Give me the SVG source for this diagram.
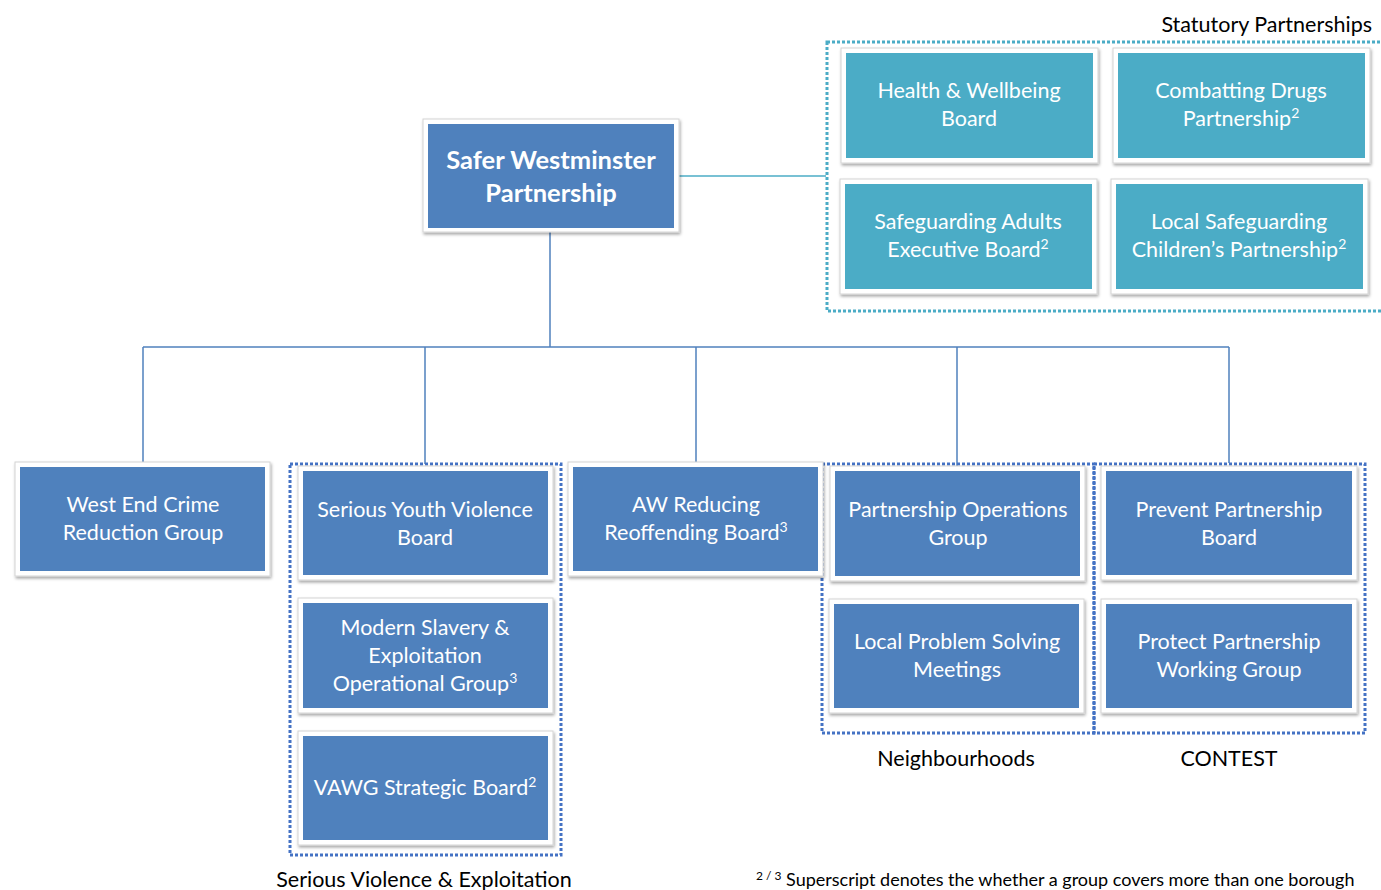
<svg xmlns="http://www.w3.org/2000/svg" width="1381" height="890" viewBox="0 0 1381 890">
<defs>
<filter id="sh" x="-5%" y="-5%" width="115%" height="120%">
<feDropShadow dx="1" dy="2" stdDeviation="1.5" flood-color="#000" flood-opacity="0.35"/>
</filter>
<style>
.frame{fill:#fff;stroke:#d4d4d4;stroke-width:1;filter:url(#sh)}
.blue{fill:#4F81BD}
.teal{fill:#4BACC6}
.t{font-family:Lato,"Open Sans","Liberation Sans",sans-serif;font-size:21.5px;fill:#fff;text-anchor:middle}
.tb{font-family:Lato,"Open Sans","Liberation Sans",sans-serif;font-size:25.5px;font-weight:bold;fill:#fff;text-anchor:middle}
.lbl{font-family:Lato,"Open Sans","Liberation Sans",sans-serif;font-size:21.5px;fill:#000;text-anchor:middle}
.sup{font-size:14px}
.dotb{fill:none;stroke:#4472C4;stroke-width:3;stroke-dasharray:3 2}
.dott{fill:none;stroke:#4BACC6;stroke-width:3;stroke-dasharray:3 2}
.conn{fill:none;stroke:#4F81BD;stroke-width:1.5}
.connt{fill:none;stroke:#4BACC6;stroke-width:1.5}
</style>
</defs>
<rect width="1381" height="890" fill="#fff"/>

<g id="connectors">
<line class="connt" x1="679" y1="176" x2="826" y2="176"/>
<line class="conn" x1="550" y1="232" x2="550" y2="347"/>
<line class="conn" x1="143" y1="347" x2="1229" y2="347"/>
<line class="conn" x1="143" y1="347" x2="143" y2="463"/>
<line class="conn" x1="425" y1="347" x2="425" y2="464"/>
<line class="conn" x1="696" y1="347" x2="696" y2="463"/>
<line class="conn" x1="957" y1="347" x2="957" y2="467"/>
<line class="conn" x1="1229" y1="347" x2="1229" y2="463"/>
</g>

<g id="group-statutory">
<rect class="dott" x="827" y="42" width="560" height="269"/>
<text class="lbl" x="1372" y="32" style="text-anchor:end">Statutory Partnerships</text>
</g>
<g id="group-sve">
<rect class="dotb" x="290" y="464" width="271" height="391"/>
<text class="lbl" x="424" y="887">Serious Violence &amp; Exploitation</text>
</g>
<g id="group-neighbourhoods">
<rect class="dotb" x="822" y="464" width="272" height="269"/>
<text class="lbl" x="956" y="766">Neighbourhoods</text>
</g>
<g id="group-contest">
<rect class="dotb" x="1094" y="464" width="271" height="269"/>
<text class="lbl" x="1229" y="766">CONTEST</text>
</g>

<g id="safer-westminster">
<rect class="frame" x="423" y="119" width="256" height="113"/>
<rect class="blue" x="428" y="124" width="246" height="104"/>
<text class="tb" x="551" y="169">Safer Westminster</text>
<text class="tb" x="551" y="202">Partnership</text>
</g>

<g id="health-wellbeing">
<rect class="frame" x="841" y="48" width="257" height="115"/>
<rect class="teal" x="846" y="53" width="247" height="105"/>
<text class="t" x="969" y="98">Health &amp; Wellbeing</text>
<text class="t" x="969" y="126">Board</text>
</g>
<g id="combatting-drugs">
<rect class="frame" x="1113" y="48" width="257" height="115"/>
<rect class="teal" x="1118" y="53" width="247" height="105"/>
<text class="t" x="1241" y="98">Combatting Drugs</text>
<text class="t" x="1241" y="126">Partnership<tspan class="sup" dy="-8">2</tspan></text>
</g>
<g id="safeguarding-adults">
<rect class="frame" x="840" y="179" width="257" height="115"/>
<rect class="teal" x="845" y="184" width="247" height="105"/>
<text class="t" x="968" y="229">Safeguarding Adults</text>
<text class="t" x="968" y="257">Executive Board<tspan class="sup" dy="-8">2</tspan></text>
</g>
<g id="local-safeguarding-children">
<rect class="frame" x="1111" y="179" width="257" height="115"/>
<rect class="teal" x="1116" y="184" width="247" height="105"/>
<text class="t" x="1239" y="229">Local Safeguarding</text>
<text class="t" x="1239" y="257">Children’s Partnership<tspan class="sup" dy="-8">2</tspan></text>
</g>

<g id="west-end">
<rect class="frame" x="15" y="462" width="255" height="114"/>
<rect class="blue" x="20" y="467" width="245" height="104"/>
<text class="t" x="143" y="512">West End Crime</text>
<text class="t" x="143" y="540">Reduction Group</text>
</g>
<g id="serious-youth-violence">
<rect class="frame" x="298" y="466" width="255" height="114"/>
<rect class="blue" x="303" y="471" width="245" height="104"/>
<text class="t" x="425" y="517">Serious Youth Violence</text>
<text class="t" x="425" y="545">Board</text>
</g>
<g id="modern-slavery">
<rect class="frame" x="298" y="598" width="255" height="115"/>
<rect class="blue" x="303" y="603" width="245" height="105"/>
<text class="t" x="425" y="635">Modern Slavery &amp;</text>
<text class="t" x="425" y="663">Exploitation</text>
<text class="t" x="425" y="691">Operational Group<tspan class="sup" dy="-8">3</tspan></text>
</g>
<g id="vawg">
<rect class="frame" x="298" y="731" width="255" height="114"/>
<rect class="blue" x="303" y="736" width="245" height="104"/>
<text class="t" x="425" y="795">VAWG Strategic Board<tspan class="sup" dy="-8">2</tspan></text>
</g>
<g id="aw-reducing">
<rect class="frame" x="568" y="462" width="255" height="114"/>
<rect class="blue" x="573" y="467" width="245" height="104"/>
<text class="t" x="696" y="512">AW Reducing</text>
<text class="t" x="696" y="540">Reoffending Board<tspan class="sup" dy="-8">3</tspan></text>
</g>
<g id="partnership-operations">
<rect class="frame" x="830" y="466" width="255" height="115"/>
<rect class="blue" x="835" y="471" width="245" height="105"/>
<text class="t" x="958" y="517">Partnership Operations</text>
<text class="t" x="958" y="545">Group</text>
</g>
<g id="local-problem-solving">
<rect class="frame" x="829" y="599" width="255" height="114"/>
<rect class="blue" x="834" y="604" width="245" height="104"/>
<text class="t" x="957" y="649">Local Problem Solving</text>
<text class="t" x="957" y="677">Meetings</text>
</g>
<g id="prevent">
<rect class="frame" x="1101" y="466" width="256" height="114"/>
<rect class="blue" x="1106" y="471" width="246" height="104"/>
<text class="t" x="1229" y="517">Prevent Partnership</text>
<text class="t" x="1229" y="545">Board</text>
</g>
<g id="protect">
<rect class="frame" x="1101" y="599" width="256" height="114"/>
<rect class="blue" x="1106" y="604" width="246" height="104"/>
<text class="t" x="1229" y="649">Protect Partnership</text>
<text class="t" x="1229" y="677">Working Group</text>
</g>

<g id="footnote">
<text x="756" y="886" style="font-family:Lato,'Open Sans','Liberation Sans',sans-serif;font-size:18px;fill:#000"><tspan font-size="12" dy="-6">2 / 3</tspan><tspan dy="6"> Superscript denotes the whether a group covers more than one borough</tspan></text>
</g>
</svg>
